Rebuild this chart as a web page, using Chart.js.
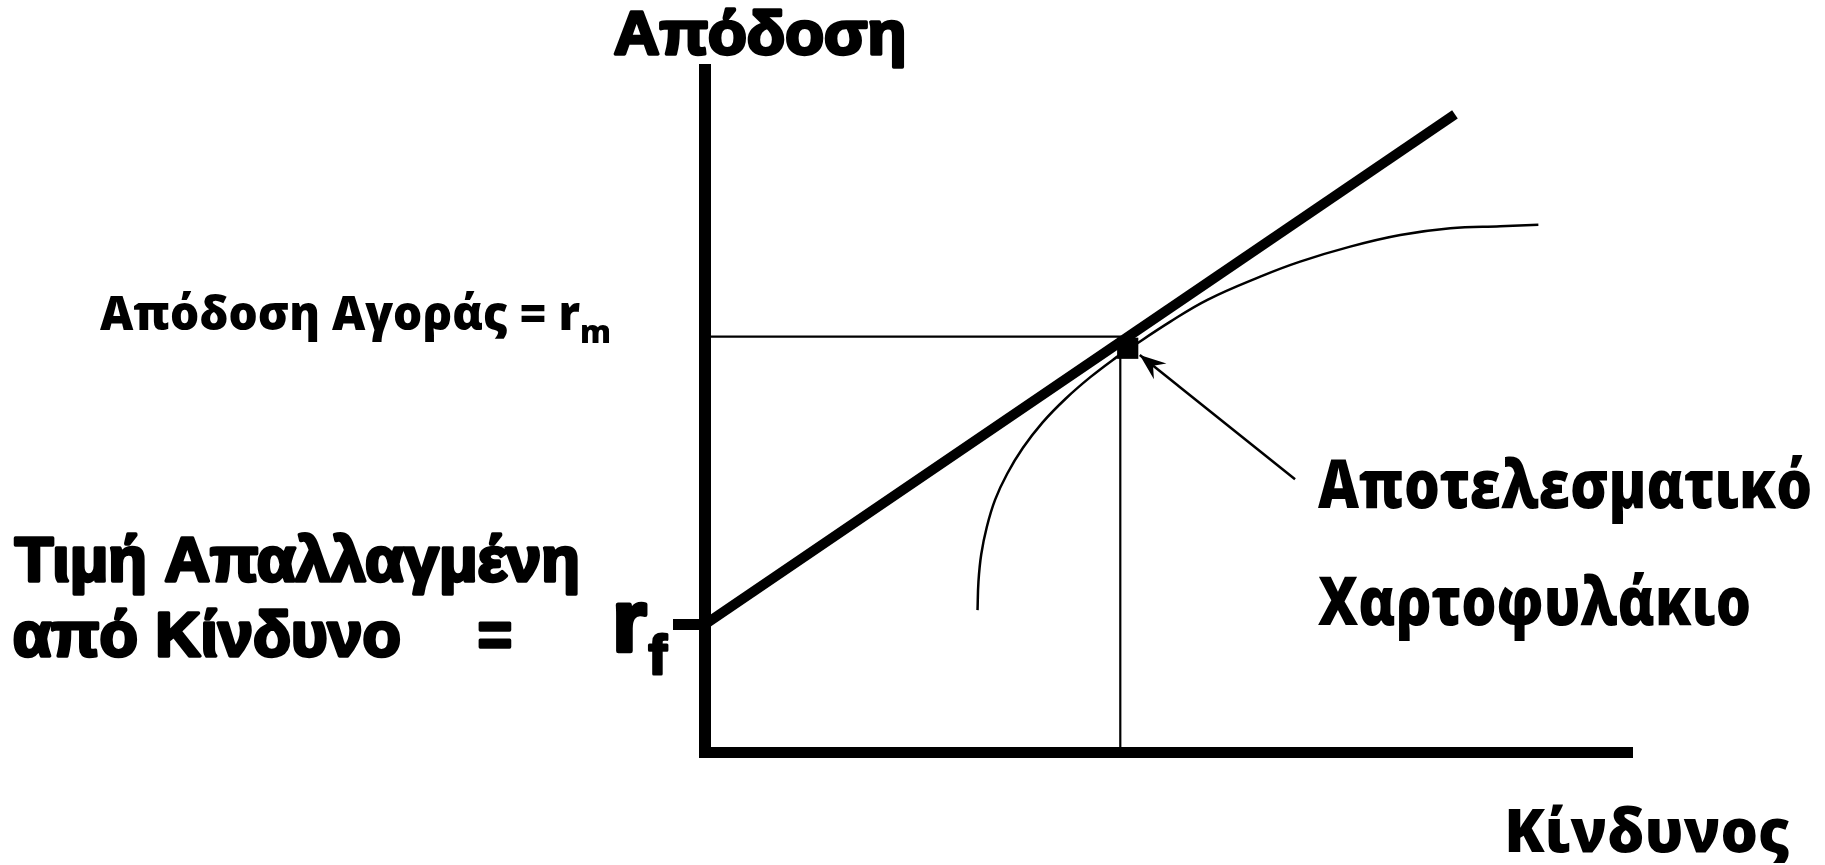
<!DOCTYPE html>
<html>
<head>
<meta charset="utf-8">
<script src="https://cdn.jsdelivr.net/npm/chart.js@4.4.1/dist/chart.umd.min.js"></script>
<style>
html,body{margin:0;padding:0;background:#ffffff;overflow:hidden}
#wrap{width:1825px;height:865px;position:relative;background:#fff}
</style>
</head>
<body>
<div id="wrap"><canvas id="c" width="1825" height="865"></canvas></div>
<script>
// ---- data (x = risk, y = return, arbitrary units 0..100) ----
const rf = 18.7;                       // risk-free return
const yTickValues = [rf];              // single tick mark on the return axis
const cmlX = [0, 80.9];                // capital market line
const cmlY = [18.7, 93.5];
const frontierX = [29.4, 29.5, 29.8, 30.4, 31.3, 32.6, 34.3, 36.4, 38.9, 41.6, 44.4, 45.5, 50.2, 54.2, 59.9, 64.2, 69.6, 75.0, 80.4, 85.8, 89.9];
const frontierY = [20.8, 25.0, 29.0, 33.0, 37.0, 40.8, 44.6, 48.3, 51.8, 55.0, 57.9, 58.9, 63.1, 66.3, 69.7, 71.9, 74.1, 75.8, 76.8, 77.1, 77.3];
const marketX = [45.6];                // market (efficient) portfolio marker
const marketY = [59.2];
const guideX = [0, 44.8, 44.8];        // r_m guide lines
const guideY = [60.9, 60.9, 0];
const arrowX = [63.65, 46.9];          // tail -> tip
const arrowY = [40.0, 58.2];

// ---- texts ----
const titleY = 'Απόδοση';
const titleX = 'Κίνδυνος';
const rmLabel = 'Απόδοση Αγοράς = r';
const rmSub = 'm';
const rfLine1 = 'Τιμή Απαλλαγμένη';
const rfLine2 = 'από Κίνδυνο';
const rfEq = '=';
const rfMain = 'r';
const rfSub = 'f';
const effLine1 = 'Αποτελεσματικό';
const effLine2 = 'Χαρτοφυλάκιο';

const pts = (xs, ys) => xs.map((x, i) => ({x: x, y: ys[i]}));

const ARIAL = '"Liberation Sans", Arial, sans-serif';
const OPEN = '"Open Sans", "Noto Sans", sans-serif';

// layout of the text items (canvas pixels): ink-left, baseline, font size, weight, extra stroke, optional ink width
const textLayout = [
  {t: titleY,  f: ARIAL, g: 'bold', k: 3.4, s: 62, x: 613,  b: 56,  w: 292},
  {t: rmLabel, f: OPEN,  g: '800',  k: 0,   s: 47, x: 100,  b: 330, w: 480},
  {t: rmSub,   f: OPEN,  g: '800',  k: 0,   s: 31, x: 582,  b: 343},
  {t: rfLine1, f: ARIAL, g: 'bold', k: 3.4, s: 63, x: 13,   b: 583, w: 565},
  {t: rfLine2, f: ARIAL, g: 'bold', k: 3.4, s: 63, x: 13,   b: 658, w: 388},
  {t: rfEq,    f: ARIAL, g: 'bold', k: 3.4, s: 63, x: 478,  b: 658, w: 34},
  {t: rfMain,  f: ARIAL, g: 'bold', k: 4.6, s: 88, x: 615,  b: 653},
  {t: rfSub,   f: ARIAL, g: 'bold', k: 3.0, s: 55, x: 647,  b: 675},
  {t: effLine1,f: OPEN,  g: '800',  k: 0,   s: 67, x: 1318, b: 508, w: 492},
  {t: effLine2,f: OPEN,  g: '800',  k: 0,   s: 67, x: 1318, b: 625, w: 431},
  {t: titleX,  f: OPEN,  g: '800',  k: 0,   s: 61, x: 1508, b: 852, w: 281}
];

function drawInk(ctx, it) {
  ctx.font = it.g + ' ' + it.s + 'px ' + it.f;
  ctx.textAlign = 'left';
  ctx.textBaseline = 'alphabetic';
  const m = ctx.measureText(it.t);
  const inkW = m.actualBoundingBoxLeft + m.actualBoundingBoxRight + it.k;
  const sx = it.w ? it.w / inkW : 1;
  ctx.save();
  ctx.translate(it.x + it.k / 2, it.b - it.k / 2);
  ctx.scale(sx, 1);
  ctx.fillStyle = '#000';
  ctx.fillText(it.t, m.actualBoundingBoxLeft, 0);
  if (it.k) {
    ctx.strokeStyle = '#000';
    ctx.lineJoin = 'round';
    ctx.lineWidth = it.k;
    ctx.strokeText(it.t, m.actualBoundingBoxLeft, 0);
  }
  ctx.restore();
}

const decorPlugin = {
  id: 'decor',
  afterDatasetsDraw(chart) {
    const ctx = chart.ctx;
    const xs = chart.scales.x, ys = chart.scales.y;
    // arrow head at the tip of the pointer line
    const tx = xs.getPixelForValue(arrowX[1]), ty = ys.getPixelForValue(arrowY[1]);
    const bx = xs.getPixelForValue(arrowX[0]), by = ys.getPixelForValue(arrowY[0]);
    const dx = bx - tx, dy = by - ty, len = Math.hypot(dx, dy);
    const ux = dx / len, uy = dy / len;
    const L = 28, a = 21 * Math.PI / 180;
    const rot = (c, s) => [ux * c - uy * s, ux * s + uy * c];
    const r1 = rot(Math.cos(a), Math.sin(a)), r2 = rot(Math.cos(a), -Math.sin(a));
    ctx.save();
    ctx.fillStyle = '#000';
    ctx.beginPath();
    ctx.moveTo(tx, ty);
    ctx.lineTo(tx + L * r1[0], ty + L * r1[1]);
    ctx.lineTo(tx + 17 * ux, ty + 17 * uy);
    ctx.lineTo(tx + L * r2[0], ty + L * r2[1]);
    ctx.closePath();
    ctx.fill();
    ctx.restore();
  },
  afterDraw(chart) {
    const ctx = chart.ctx;
    textLayout.forEach(it => drawInk(ctx, it));
  }
};

const lineBase = {showLine: true, pointRadius: 0, fill: false, borderColor: '#000', backgroundColor: '#000', clip: false, tension: 0};

const chart = new Chart(document.getElementById('c'), {
  type: 'scatter',
  data: {
    datasets: [
      Object.assign({}, lineBase, {label: 'rm guides', data: pts(guideX, guideY), borderWidth: 2.2}),
      Object.assign({}, lineBase, {label: 'frontier', data: pts(frontierX, frontierY), borderWidth: 2.5, tension: 0.4}),
      Object.assign({}, lineBase, {label: 'CML', data: pts(cmlX, cmlY), borderWidth: 10, borderCapStyle: 'butt'}),
      Object.assign({}, lineBase, {label: 'pointer', data: pts(arrowX, arrowY), borderWidth: 2.5}),
      {label: 'market', data: pts(marketX, marketY), showLine: false, pointStyle: 'rect', pointRadius: 15, pointHoverRadius: 15, borderWidth: 0, backgroundColor: '#000', borderColor: '#000', clip: false}
    ]
  },
  options: {
    responsive: false,
    devicePixelRatio: 1,
    animation: false,
    events: [],
    layout: {padding: {left: 673, top: 70, right: 193, bottom: 113}},
    plugins: {legend: {display: false}, tooltip: {enabled: false}, title: {display: false}},
    scales: {
      x: {
        type: 'linear', min: 0, max: 100, position: 'bottom',
        ticks: {display: false},
        grid: {display: false, drawTicks: false},
        border: {display: true, width: 11, color: '#000'}
      },
      y: {
        type: 'linear', min: 0, max: 100, position: 'left',
        afterBuildTicks: s => { s.ticks = yTickValues.map(v => ({value: v})); },
        ticks: {display: false},
        grid: {display: true, drawOnChartArea: false, drawTicks: true, tickLength: 32, lineWidth: 11, color: '#000'},
        border: {display: true, width: 12, color: '#000'}
      }
    }
  },
  plugins: [decorPlugin]
});
if (document.fonts && document.fonts.ready) { document.fonts.ready.then(() => chart.draw()); }
</script>
</body>
</html>
